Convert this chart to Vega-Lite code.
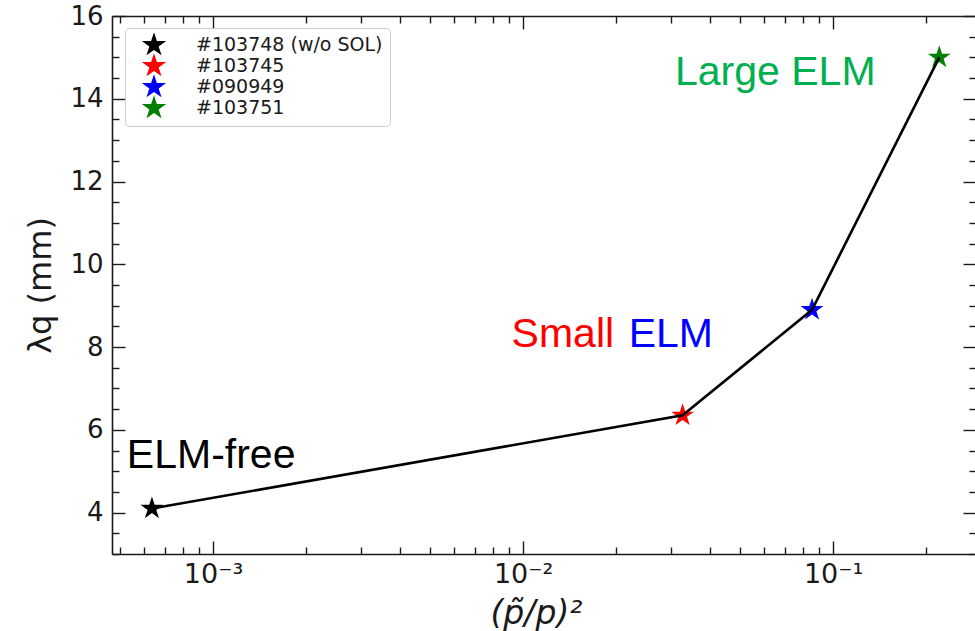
{
  "$schema": "https://vega.github.io/schema/vega-lite/v6.json",
  "autosize": {"type": "none"},
  "padding": {"left": 112, "top": 16, "right": 0, "bottom": 77},
  "width": 864,
  "height": 538,
  "background": "white",
  "config": {
    "view": {"stroke": null},
    "axis": {
      "grid": false,
      "domainColor": "#1a1a1a",
      "domainWidth": 1.6,
      "tickColor": "#1a1a1a",
      "tickWidth": 1.4,
      "labelFont": "DejaVu Sans",
      "labelFontSize": 26,
      "labelColor": "#1a1a1a",
      "titleFont": "DejaVu Sans",
      "titleFontSize": 32,
      "titleFontWeight": "normal",
      "titleColor": "#1a1a1a",
      "labelOverlap": false,
      "labelFlush": false,
      "labelBound": false
    }
  },
  "datasets": {
    "shots": [
      {"shot": "#103748 (w/o SOL)", "pfluct": 0.000635, "lambda_q": 4.1},
      {"shot": "#103745", "pfluct": 0.0327, "lambda_q": 6.35},
      {"shot": "#090949", "pfluct": 0.0855, "lambda_q": 8.9},
      {"shot": "#103751", "pfluct": 0.22, "lambda_q": 15.0}
    ],
    "regimes": [
      {"tag": "ELM-free", "pfluct": 0.000527, "lambda_q": 5.09},
      {"tag": "Small", "pfluct": 0.00918, "lambda_q": 8.0},
      {"tag": "ELM", "pfluct": 0.0219, "lambda_q": 8.0},
      {"tag": "Large ELM", "pfluct": 0.0309, "lambda_q": 14.34}
    ]
  },
  "layer": [
    {
      "data": {"name": "shots"},
      "mark": {
        "type": "point",
        "filled": true,
        "opacity": 1,
        "size": 580,
        "strokeWidth": 1,
        "shape": "M0,-1L0.2245,-0.309L0.951,-0.309L0.363,0.118L0.588,0.809L0,0.382L-0.588,0.809L-0.363,0.118L-0.951,-0.309L-0.2245,-0.309Z"
      },
      "encoding": {
        "x": {
          "field": "pfluct",
          "type": "quantitative",
          "scale": {"type": "log", "domain": [0.000472, 0.289], "nice": false},
          "axis": {
            "orient": "bottom",
            "title": "(p̃/p)²",
            "titleFontStyle": "italic",
            "titleFontSize": 33,
            "titlePadding": 4,
            "titleX": 424,
            "values": [0.0005, 0.0006, 0.0007, 0.0008, 0.0009, 0.001, 0.002, 0.003, 0.004, 0.005, 0.006, 0.007, 0.008, 0.009, 0.01, 0.02, 0.03, 0.04, 0.05, 0.06, 0.07, 0.08, 0.09, 0.1, 0.2],
            "tickSize": {"condition": {"test": "abs(log(datum.value)/LN10 - round(log(datum.value)/LN10)) < 0.01", "value": -13}, "value": -7},
            "labelPadding": 20,
            "labelFontSize": 27,
            "labelExpr": "abs(log(datum.value)/LN10 - round(log(datum.value)/LN10)) < 0.01 ? '10' + (round(log(datum.value)/LN10) == -3 ? '⁻³' : round(log(datum.value)/LN10) == -2 ? '⁻²' : '⁻¹') : ''"
          }
        },
        "y": {
          "field": "lambda_q",
          "type": "quantitative",
          "scale": {"domain": [3, 16], "nice": false, "zero": false},
          "axis": {
            "orient": "left",
            "title": "λq (mm)",
            "titlePadding": 12,
            "values": [3, 3.5, 4, 4.5, 5, 5.5, 6, 6.5, 7, 7.5, 8, 8.5, 9, 9.5, 10, 10.5, 11, 11.5, 12, 12.5, 13, 13.5, 14, 14.5, 15, 15.5, 16],
            "tickSize": {"condition": {"test": "datum.value % 2 == 0", "value": -13}, "value": -7},
            "labelPadding": 22,
            "labelExpr": "datum.value % 2 == 0 ? format(datum.value, 'd') : ''"
          }
        },
        "color": {
          "field": "shot",
          "type": "nominal",
          "scale": {
            "domain": ["#103748 (w/o SOL)", "#103745", "#090949", "#103751"],
            "range": ["black", "red", "blue", "green"]
          },
          "legend": {
            "orient": "none",
            "legendX": 13,
            "legendY": 12,
            "title": null,
            "symbolType": "M0,-1.35L0.303,-0.417L1.284,-0.417L0.49,0.159L0.794,1.092L0,0.516L-0.794,1.092L-0.49,0.159L-1.284,-0.417L-0.303,-0.417Z",
            "symbolSize": 361,
            "symbolStrokeWidth": 1,
            "labelFont": "DejaVu Sans",
            "labelFontSize": 19,
            "labelColor": "#1a1a1a",
            "labelLimit": 400,
            "labelOffset": 32,
            "symbolOffset": 12,
            "padding": 7,
            "rowPadding": -8,
            "strokeColor": "#cccccc",
            "fillColor": "rgba(255,255,255,0.8)",
            "cornerRadius": 4
          }
        }
      }
    },
    {
      "data": {"name": "shots"},
      "mark": {"type": "line", "color": "black", "strokeWidth": 2.6},
      "encoding": {
        "x": {
          "field": "pfluct",
          "type": "quantitative",
          "sort": "ascending",
          "axis": {
            "orient": "top",
            "title": null,
            "labels": false,
            "values": [0.0005, 0.0006, 0.0007, 0.0008, 0.0009, 0.001, 0.002, 0.003, 0.004, 0.005, 0.006, 0.007, 0.008, 0.009, 0.01, 0.02, 0.03, 0.04, 0.05, 0.06, 0.07, 0.08, 0.09, 0.1, 0.2],
            "tickSize": {"condition": {"test": "abs(log(datum.value)/LN10 - round(log(datum.value)/LN10)) < 0.01", "value": -13}, "value": -7}
          }
        },
        "y": {
          "field": "lambda_q",
          "type": "quantitative",
          "axis": {
            "orient": "right",
            "title": null,
            "labels": false,
            "values": [3, 3.5, 4, 4.5, 5, 5.5, 6, 6.5, 7, 7.5, 8, 8.5, 9, 9.5, 10, 10.5, 11, 11.5, 12, 12.5, 13, 13.5, 14, 14.5, 15, 15.5, 16],
            "tickSize": {"condition": {"test": "datum.value % 2 == 0", "value": -13}, "value": -7}
          }
        }
      }
    },
    {
      "data": {"name": "regimes"},
      "mark": {"type": "text", "align": "left", "baseline": "alphabetic", "font": "Liberation Sans", "fontSize": 41},
      "encoding": {
        "x": {"field": "pfluct", "type": "quantitative", "axis": null},
        "y": {"field": "lambda_q", "type": "quantitative", "axis": null},
        "text": {"field": "tag"},
        "color": {
          "field": "tag",
          "type": "nominal",
          "scale": {"domain": ["ELM-free", "Small", "ELM", "Large ELM"], "range": ["black", "#ff0000", "#0000ff", "#00b050"]},
          "legend": null
        }
      }
    }
  ],
  "resolve": {
    "axis": {"x": "independent", "y": "independent"},
    "scale": {"color": "independent"}
  }
}
